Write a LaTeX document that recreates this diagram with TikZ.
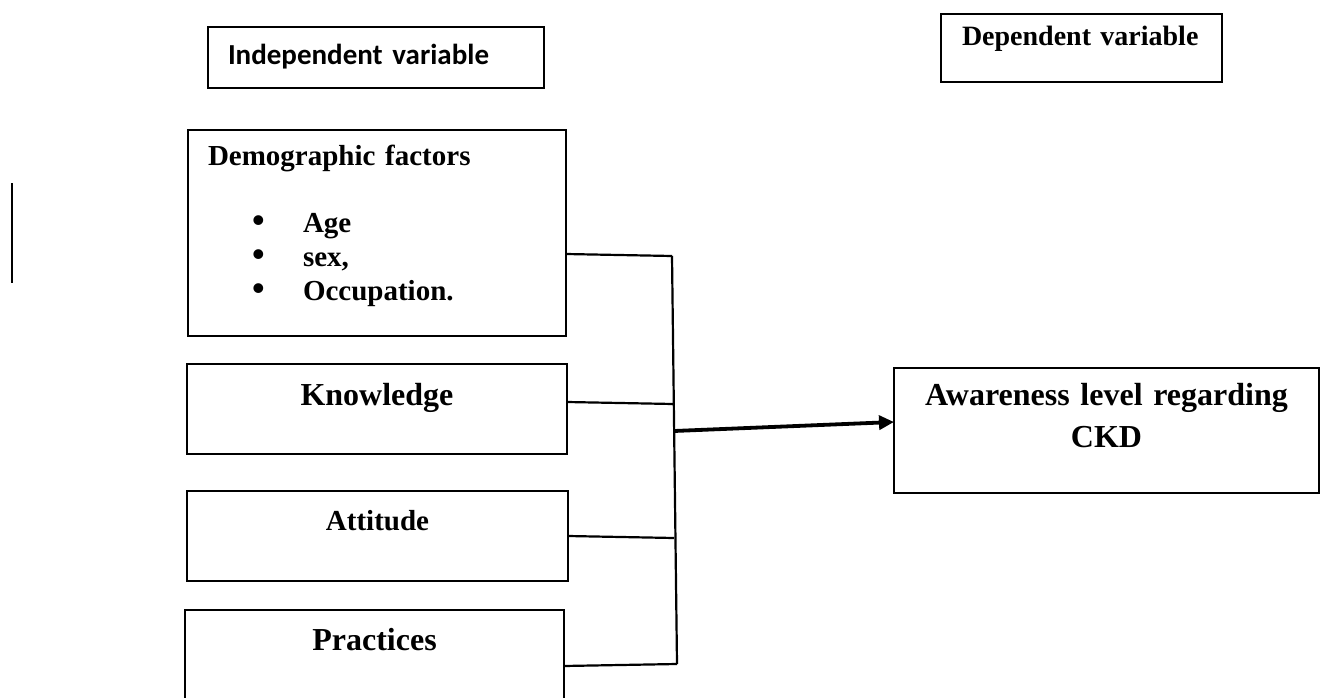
\documentclass[tikz,border=0pt]{standalone}
\usepackage{fontspec}
\setmainfont{Liberation Serif}
\newfontfamily\calibrifont{Carlito}
\usetikzlibrary{arrows.meta}

\tikzset{varbox/.style = {draw, line width=1.8pt, inner sep=0pt, outer sep=0pt,
                          anchor=north west, align=center,
                          font=\bfseries\fontsize{32}{42}\selectfont},
         link/.style = {line width=2.2pt},
         arr/.style = {line width=3.8pt, -{Triangle[length=15pt,width=14pt]}}
        }

\begin{document}
\begin{tikzpicture}[x=1pt,y=-1pt]
  \path[use as bounding box, clip] (0,0) rectangle (1322,698);

  % headings
  \node[varbox, text width=336pt, text height=38pt, text depth=23pt, align=left,
        font=\calibrifont\bfseries\fontsize{29}{34}\selectfont] (indep) at (208,27)
        {\hspace*{20pt}Independent variable};
  \node[varbox, text width=281pt, text height=32pt, text depth=36pt, align=left,
        font=\bfseries\fontsize{28}{34}\selectfont] (dep) at (941,14)
        {\hspace*{21pt}Dependent variable};

  % independent variables
  \node[varbox, text width=378pt, text height=35pt, text depth=171pt, align=left,
        font=\bfseries\fontsize{29}{34}\selectfont] (demo) at (188,130)
        {\hspace*{20pt}Demographic factors\\[33pt]
         \hspace*{64pt}\makebox[51pt][l]{\fontsize{36}{34}\selectfont\textbullet}Age\\
         \hspace*{64pt}\makebox[51pt][l]{\fontsize{36}{34}\selectfont\textbullet}sex,\\
         \hspace*{64pt}\makebox[51pt][l]{\fontsize{36}{34}\selectfont\textbullet}Occupation.};
  \node[varbox, text width=380pt, text height=41pt, text depth=49pt] (know) at (187,364) {Knowledge};
  \node[varbox, text width=381pt, text height=39pt, text depth=51pt,
        font=\bfseries\fontsize{29}{34}\selectfont] (att) at (187,491) {Attitude};
  \node[varbox, text width=379pt, text height=40pt, text depth=70pt] (prac) at (185,610) {Practices};

  % dependent variable
  \node[varbox, text width=425pt, text height=37pt, text depth=88pt] (aware) at (894,368)
        {Awareness level regarding\\CKD};

  % joining lines
  \coordinate (j1) at (672,256);
  \coordinate (j2) at (673,404);
  \coordinate (j3) at (674,538);
  \coordinate (j4) at (677,664);
  \coordinate (jm) at (674,431);
  \draw[link] (demo.east |- 0,254) -- (j1);
  \draw[link] (know.east |- 0,402) -- (j2);
  \draw[link] (att.east |- 0,536) -- (j3);
  \draw[link] (prac.east |- 0,666) -- (j4);
  \draw[link] (j1) -- (j4);
  \draw[arr] (jm) -- (aware.west |- 0,422);

  % stray mark
  \draw[line width=2.7pt] (12,183) -- (12,283);
\end{tikzpicture}
\end{document}
